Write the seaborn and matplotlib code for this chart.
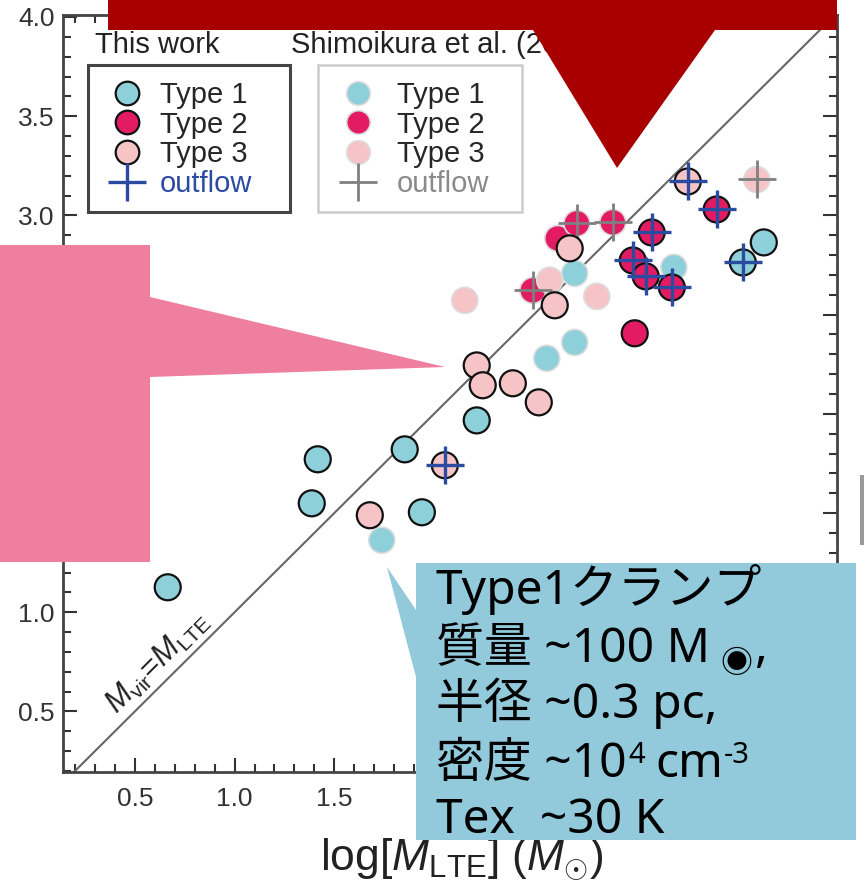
import numpy as np
import pandas as pd
import seaborn as sns
import matplotlib.pyplot as plt
from matplotlib.lines import Line2D
from matplotlib.patches import Polygon, Rectangle
from matplotlib.ticker import MultipleLocator

sns.set_style('ticks')
plt.rcParams['font.family'] = ['Liberation Sans', 'DejaVu Sans']
plt.rcParams['mathtext.fontset'] = 'custom'
plt.rcParams['mathtext.rm'] = 'Liberation Sans'
plt.rcParams['mathtext.it'] = 'Liberation Sans:italic'
plt.rcParams['mathtext.bf'] = 'Liberation Sans:bold'

# this work clumps
this_x = [0.665, 1.417, 1.387, 1.853, 1.939, 2.214, 3.653, 3.548,
          3.006, 3.091, 2.996, 3.061, 3.192, 3.417,
          1.678, 2.054, 2.214, 2.244, 2.395, 2.525, 2.605, 2.680, 3.272]
this_y = [1.126, 1.771, 1.549, 1.821, 1.504, 1.967, 2.864, 2.763,
          2.406, 2.914, 2.773, 2.693, 2.637, 3.030,
          1.489, 1.741, 2.244, 2.144, 2.154, 2.058, 2.547, 2.834, 3.171]
this_type = ['Type 1'] * 8 + ['Type 2'] * 6 + ['Type 3'] * 9
this_outflow = [0, 0, 0, 0, 0, 0, 0, 1,
                0, 1, 1, 1, 1, 1,
                0, 1, 0, 0, 0, 0, 0, 0, 1]

# Shimoikura et al. clumps
shim_x = [1.738, 2.565, 2.705, 2.705, 3.202,
          2.620, 2.716, 2.896, 2.495,
          2.154, 2.580, 2.816, 3.618]
shim_y = [1.363, 2.280, 2.360, 2.708, 2.738,
          2.884, 2.960, 2.965, 2.622,
          2.572, 2.673, 2.592, 3.181]
shim_type = ['Type 1'] * 5 + ['Type 2'] * 4 + ['Type 3'] * 4
shim_outflow = [0, 0, 0, 0, 0,
                0, 1, 1, 1,
                0, 0, 0, 1]

type_labels = ['Type 1', 'Type 2', 'Type 3']
palette = {'Type 1': '#8DD0DA', 'Type 2': '#E31B63', 'Type 3': '#F6C4C6'}
blue = '#2B4BA0'
gray = '#808080'

this_df = pd.DataFrame({'x': this_x, 'y': this_y, 'type': this_type,
                        'outflow': np.array(this_outflow, dtype=bool)})
shim_df = pd.DataFrame({'x': shim_x, 'y': shim_y, 'type': shim_type,
                        'outflow': np.array(shim_outflow, dtype=bool)})

fig = plt.figure(figsize=(8.64, 8.82), dpi=100)
ax = fig.add_axes([63 / 864, 1 - 772 / 882, 774 / 864, 757 / 882])

ax.axline((1, 1), (2, 2), color='#666666', lw=1.5, zorder=2)

sns.scatterplot(data=shim_df, x='x', y='y', hue='type', palette=palette,
                s=350, edgecolor='#dcdcdc', linewidth=1.2, legend=False,
                ax=ax, zorder=3)
sns.scatterplot(data=shim_df[shim_df['outflow']], x='x', y='y', marker='+',
                color=gray, s=740, linewidth=2, legend=False, ax=ax, zorder=4)
sns.scatterplot(data=this_df, x='x', y='y', hue='type', palette=palette,
                s=350, edgecolor='#111111', linewidth=1.6, legend=False,
                ax=ax, zorder=5)
sns.scatterplot(data=this_df[this_df['outflow']], x='x', y='y', marker='+',
                color=blue, s=740, linewidth=2.4, legend=False, ax=ax, zorder=6)

ax.text(0.615, 0.75, r'$M_{\rm vir}$=$M_{\rm LTE}$', rotation=45,
        rotation_mode='anchor', ha='center', va='center', fontsize=22,
        color='#222222')

ax.set_xlim(0.14, 4.02)
ax.set_ylim(0.195, 4.01)
ax.xaxis.set_major_locator(MultipleLocator(0.5))
ax.yaxis.set_major_locator(MultipleLocator(0.5))
ax.xaxis.set_minor_locator(MultipleLocator(0.1))
ax.yaxis.set_minor_locator(MultipleLocator(0.1))
ax.tick_params(which='both', direction='in', top=True, right=True,
               color='#333333', width=1.5)
ax.tick_params(which='major', length=10)
ax.tick_params(which='minor', length=5.5)
ax.tick_params(axis='x', which='major', pad=11, labelsize=19, labelcolor='#333333')
ax.tick_params(axis='y', which='major', pad=6, labelsize=19, labelcolor='#333333')
for sp in ax.spines.values():
    sp.set_linewidth(2)
    sp.set_color('#444444')

ax.set_xlabel(r'log[$M_{\rm LTE}$] ($M_{\odot}$)', fontsize=32, color='#222222')
ax.xaxis.set_label_coords(0.515, -0.086)
# y label sits under the pink callout, as in the slide
ax.set_ylabel(r'log[$M_{\rm vir}$] ($M_{\odot}$)', fontsize=13, color='#222222')
ax.yaxis.set_label_coords(-0.054, 0.5)

# legends
h_this = [Line2D([], [], marker='o', ls='none', markersize=17,
                 markerfacecolor=palette[t], markeredgecolor='#111111',
                 markeredgewidth=1.6) for t in type_labels]
h_this.append(Line2D([], [], marker='+', ls='none', markersize=27,
                     color=blue, markeredgewidth=2.4))
h_shim = [Line2D([], [], marker='o', ls='none', markersize=17,
                 markerfacecolor=palette[t], markeredgecolor='#dcdcdc',
                 markeredgewidth=1.2) for t in type_labels]
h_shim.append(Line2D([], [], marker='+', ls='none', markersize=27,
                     color=gray, markeredgewidth=2))
labels = type_labels + ['outflow']

leg1 = ax.legend(h_this, labels, loc='upper left', bbox_to_anchor=(0.0581, 0.913),
                 frameon=False, fontsize=21, labelspacing=0.06, handlelength=1.3,
                 handletextpad=0.49, borderpad=0, borderaxespad=0)
leg1.get_texts()[3].set_color(blue)
ax.add_artist(leg1)
leg2 = ax.legend(h_shim, labels, loc='upper left', bbox_to_anchor=(0.3566, 0.913),
                 frameon=False, fontsize=21, labelspacing=0.06, handlelength=1.3,
                 handletextpad=0.69, borderpad=0, borderaxespad=0)
leg2.get_texts()[3].set_color('#8a8a8a')

# overlay in pixel coordinates
ov = fig.add_axes([0, 0, 1, 1], zorder=10)
ov.set_xlim(0, 864)
ov.set_ylim(882, 0)
ov.axis('off')

ov.add_patch(Rectangle((88, 65), 202, 147, fill=False, edgecolor='#444444', lw=2.2))
ov.add_patch(Rectangle((318, 65), 204, 147, fill=False, edgecolor='#cccccc', lw=1.8))
ov.text(95, 53, 'This work', fontsize=21, color='#222222', va='baseline')
ov.text(291, 53, 'Shimoikura et al. (2013)', fontsize=21, color='#222222', va='baseline')

red_shape = [(108, 0), (837, 0), (837, 30), (715, 30), (617, 168), (533, 30), (108, 30)]
ov.add_patch(Polygon(red_shape, closed=True, facecolor='#A80000', edgecolor='none', zorder=10))
pink_shape = [(0, 245), (150, 245), (150, 297), (445, 367), (150, 377), (150, 562), (0, 562)]
ov.add_patch(Polygon(pink_shape, closed=True, facecolor='#EE7F9F', edgecolor='none', zorder=10))
blue_shape = [(416, 563), (856, 563), (856, 840), (416, 840), (416, 677), (387, 567), (416, 610)]
ov.add_patch(Polygon(blue_shape, closed=True, facecolor='#92CADC', edgecolor='none', zorder=10))
ov.add_patch(Rectangle((860, 475), 4, 70, facecolor='#999999', edgecolor='none', zorder=10))

cjk = ['Noto Sans', 'Noto Sans CJK JP', 'DejaVu Sans']
renderer = fig.canvas.get_renderer()


def chain(x, y, pieces):
    for txt, size, gap, dy in pieces:
        x += gap
        t = ov.text(x, y + dy, txt, fontsize=size, family=cjk, color='black',
                    ha='left', va='baseline', zorder=12)
        x += t.get_window_extent(renderer).width


big = 34.5
sup = 21
chain(436, 604, [('Type1クランプ', big, 0, 0)])
chain(436, 662, [('質量 ~100 M', big, 0, 0), ('◉', 23, 10, 11), (',', big, 2, 0)])
chain(436, 718, [('半径 ~0.3 pc,', big, 0, 0)])
chain(436, 777, [('密度 ~10', big, 0, 0), ('4', sup, 2, -14), ('cm', big, 10, 0), ('-3', sup, 1, -14)])
chain(436, 833, [('Tex  ~30 K', big, 0, 0)])

fig.savefig('out.png', dpi=100)
